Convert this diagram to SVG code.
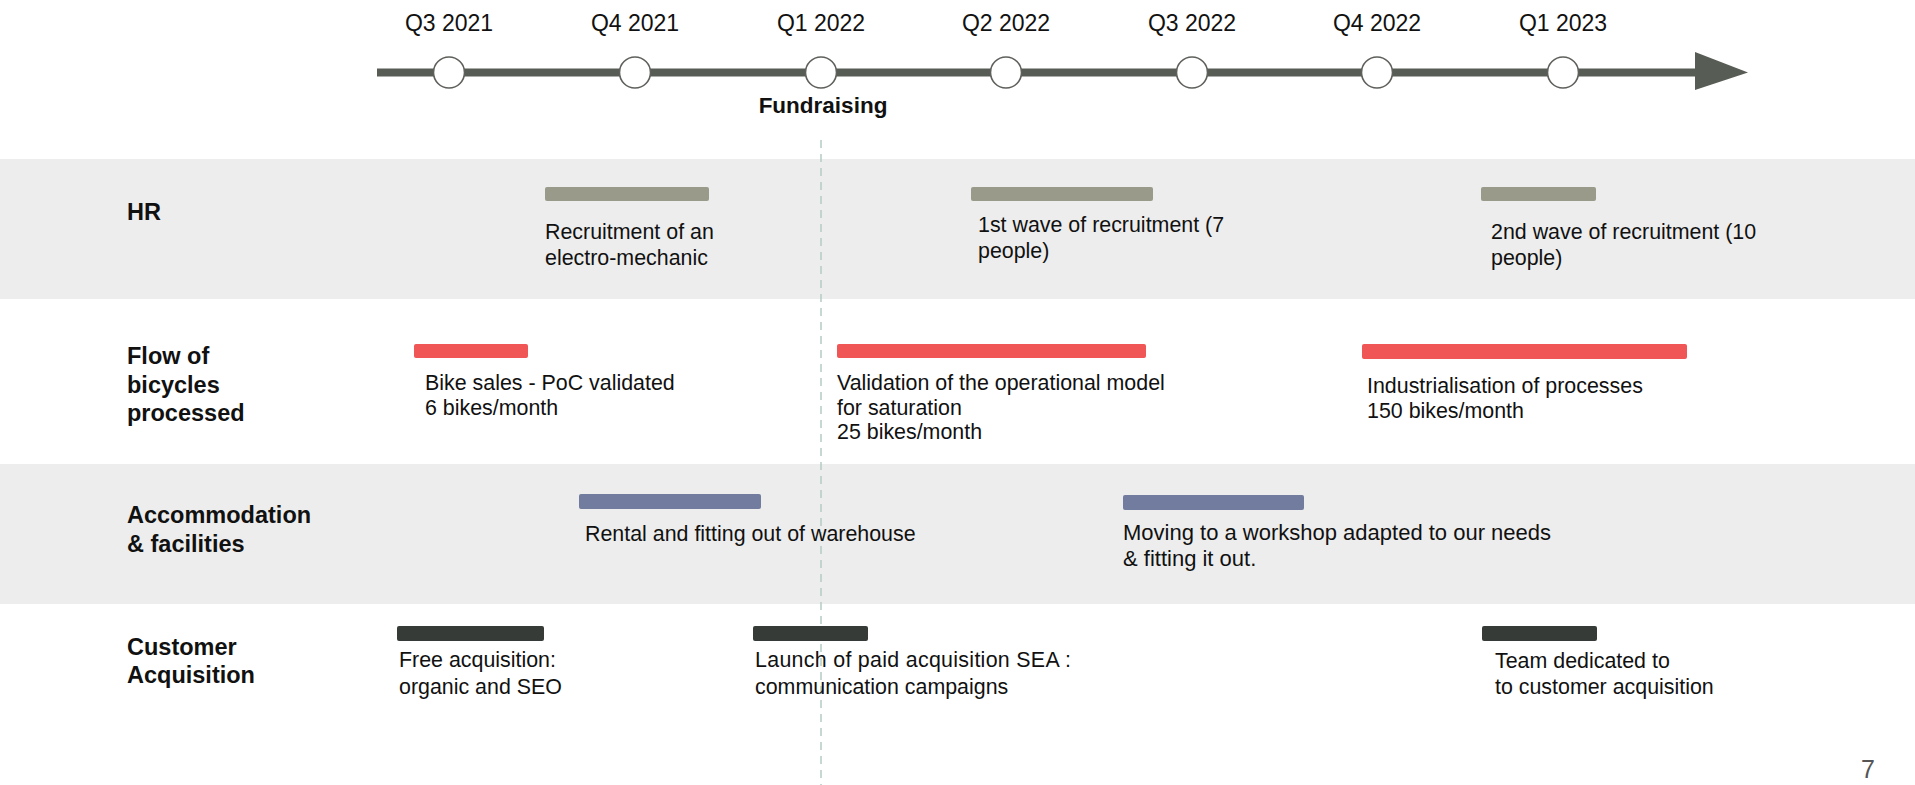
<svg xmlns="http://www.w3.org/2000/svg" width="1915" height="785" viewBox="0 0 1915 785">
<style>
text{font-family:"Liberation Sans",Arial,Helvetica,sans-serif;fill:#111;}
.q{font-size:23px;text-anchor:middle;}
.lbl{font-size:23.5px;font-weight:bold;}
.t{font-size:21.4px;}
.band{fill:#ededed;}
.hr{fill:#999a8a;}
.red{fill:#f05656;}
.blue{fill:#717c9e;}
.dark{fill:#373b37;}
.ms{fill:#fff;stroke:#5d605b;stroke-width:1.6;}
</style>
<rect width="1915" height="785" fill="#fff"/>
<g id="bands">
<rect class="band" x="0" y="159" width="1915" height="140"/>
<rect class="band" x="0" y="464" width="1915" height="140"/>
</g>
<g id="connectors">
<line x1="377" y1="72.5" x2="1700" y2="72.5" stroke="#575c55" stroke-width="8"/>
<polygon points="1695,52 1748,72.5 1695,90" fill="#575c55"/>
<line x1="821" y1="140" x2="821" y2="785" stroke="#b2cbc4" stroke-width="1.5" stroke-dasharray="8 6"/>
</g>
<g id="milestones">
<g id="q3-2021"><circle class="ms" cx="449" cy="72.5" r="15.5"/><text class="q" x="449" y="31">Q3 2021</text></g>
<g id="q4-2021"><circle class="ms" cx="635" cy="72.5" r="15.5"/><text class="q" x="635" y="31">Q4 2021</text></g>
<g id="q1-2022"><circle class="ms" cx="821" cy="72.5" r="15.5"/><text class="q" x="821" y="31">Q1 2022</text></g>
<g id="q2-2022"><circle class="ms" cx="1006" cy="72.5" r="15.5"/><text class="q" x="1006" y="31">Q2 2022</text></g>
<g id="q3-2022"><circle class="ms" cx="1192" cy="72.5" r="15.5"/><text class="q" x="1192" y="31">Q3 2022</text></g>
<g id="q4-2022"><circle class="ms" cx="1377" cy="72.5" r="15.5"/><text class="q" x="1377" y="31">Q4 2022</text></g>
<g id="q1-2023"><circle class="ms" cx="1563" cy="72.5" r="15.5"/><text class="q" x="1563" y="31">Q1 2023</text></g>
</g>
<g id="fundraising"><text x="823" y="113" font-size="22.5" font-weight="bold" text-anchor="middle">Fundraising</text></g>
<g id="row-labels">
<g id="label-hr"><text class="lbl" x="127" y="220">HR</text></g>
<g id="label-flow"><text class="lbl" x="127" y="364">Flow of</text><text class="lbl" x="127" y="392.5">bicycles</text><text class="lbl" x="127" y="421">processed</text></g>
<g id="label-accommodation"><text class="lbl" x="127" y="523">Accommodation</text><text class="lbl" x="127" y="552">&amp; facilities</text></g>
<g id="label-customer"><text class="lbl" x="127" y="655">Customer</text><text class="lbl" x="127" y="683">Acquisition</text></g>
</g>
<g id="hr-1"><rect class="hr" x="545" y="187" width="164" height="14" rx="2"/><text class="t" x="545" y="239">Recruitment of an</text><text class="t" x="545" y="264.5">electro-mechanic</text></g>
<g id="hr-2"><rect class="hr" x="971" y="187" width="182" height="14" rx="2"/><text class="t" x="978" y="232">1st wave of recruitment (7</text><text class="t" x="978" y="257.5">people)</text></g>
<g id="hr-3"><rect class="hr" x="1481" y="187" width="115" height="14" rx="2"/><text class="t" x="1491" y="239">2nd wave of recruitment (10</text><text class="t" x="1491" y="264.5">people)</text></g>
<g id="flow-1"><rect class="red" x="414" y="344" width="114" height="14" rx="2"/><text class="t" x="425" y="390">Bike sales - PoC validated</text><text class="t" x="425" y="414.5">6 bikes/month</text></g>
<g id="flow-2"><rect class="red" x="837" y="344" width="309" height="14" rx="2"/><text class="t" x="837" y="390">Validation of the operational model</text><text class="t" x="837" y="414.5">for saturation</text><text class="t" x="837" y="439">25 bikes/month</text></g>
<g id="flow-3"><rect class="red" x="1362" y="344" width="325" height="15" rx="2"/><text class="t" x="1367" y="393">Industrialisation of processes</text><text class="t" x="1367" y="418">150 bikes/month</text></g>
<g id="acc-1"><rect class="blue" x="579" y="494" width="182" height="15" rx="2"/><text class="t" x="585" y="541">Rental and fitting out of warehouse</text></g>
<g id="acc-2"><rect class="blue" x="1123" y="495" width="181" height="15" rx="2"/><text class="t" x="1123" y="540" style="font-size:22px">Moving to a workshop adapted to our needs</text><text class="t" x="1123" y="566" style="font-size:22px">&amp; fitting it out.</text></g>
<g id="cust-1"><rect class="dark" x="397" y="626" width="147" height="15" rx="2"/><text class="t" x="399" y="667">Free acquisition:</text><text class="t" x="399" y="694">organic and SEO</text></g>
<g id="cust-2"><rect class="dark" x="753" y="626" width="115" height="15" rx="2"/><text class="t" x="755" y="667" textLength="316" lengthAdjust="spacing">Launch of paid acquisition SEA :</text><text class="t" x="755" y="694">communication campaigns</text></g>
<g id="cust-3"><rect class="dark" x="1482" y="626" width="115" height="15" rx="2"/><text class="t" x="1495" y="668">Team dedicated to</text><text class="t" x="1495" y="694">to customer acquisition</text></g>
<g id="page-number"><text x="1868" y="778" font-size="25" style="fill:#555" text-anchor="middle">7</text></g>
</svg>
